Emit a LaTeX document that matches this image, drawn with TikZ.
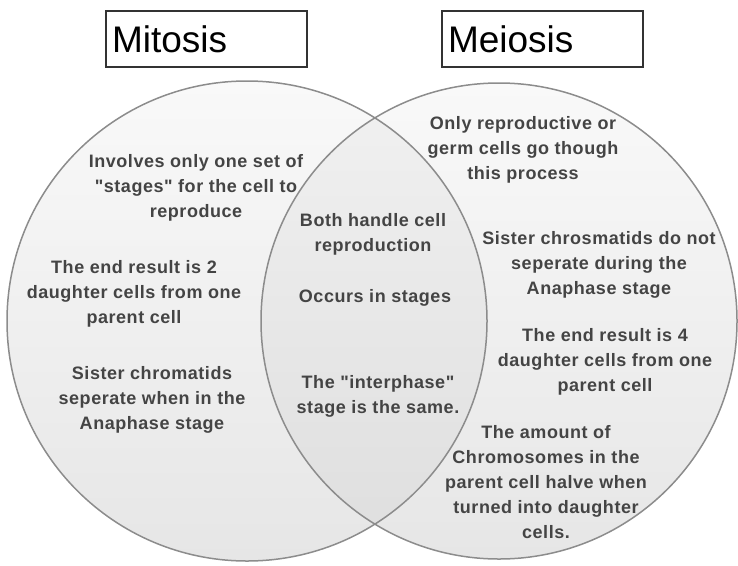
\documentclass[tikz,border=0pt]{standalone}
\usepackage{fontspec}
\setmainfont{Liberation Sans}
\newfontfamily\bodyfont[LetterSpace=3]{Liberation Sans}
\definecolor{txt}{HTML}{444444}
\definecolor{ring}{HTML}{8C8C8C}
\definecolor{filltop}{HTML}{F9F9F9}
\definecolor{fillbot}{HTML}{E6E6E6}
\begin{document}
\begin{tikzpicture}[x=1pt,y=-1pt,
  lbl/.style={font=\bodyfont\bfseries\fontsize{18}{25}\selectfont, text=txt, align=center, inner sep=0pt},
  titlebox/.style={draw=black!80, line width=1.2pt, minimum height=56pt, inner xsep=6pt, inner ysep=0pt,
    text width=189pt, align=left, font=\fontsize{37}{40}\selectfont},
  ringline/.style={draw=ring, line width=1.5pt}]
\useasboundingbox (0,0) rectangle (738,565);
% circles
\shade[top color=filltop, bottom color=fillbot] (247,321) circle [radius=240];
\shade[top color=filltop, bottom color=fillbot] (499,321) circle [radius=238];
\begin{scope}
  \clip (247,321) circle [radius=240];
  \fill[black, opacity=0.03] (499,321) circle [radius=238];
\end{scope}
\draw[ringline] (247,321) circle [radius=240];
\draw[ringline] (499,321) circle [radius=238];
% titles
\node[titlebox] (mit) at (206.5,39) {Mitosis};
\node[titlebox] (mei) at (542.5,39) {Meiosis};
% left texts
\node[lbl] (t1) at (196,188) {Involves only one set of\\"stages" for the cell to\\reproduce};
\node[lbl] (t2) at (134,294) {The end result is 2\\daughter cells from one\\parent cell};
\node[lbl] (t3) at (152,400) {Sister chromatids\\seperate when in the\\Anaphase stage};
% middle texts
\node[lbl] (t4) at (373,234.5) {Both handle cell\\reproduction};
\node[lbl] (t5) at (375,298) {Occurs in stages};
\node[lbl] (t6) at (378,396) {The "interphase"\\stage is the same.};
% right texts
\node[lbl] (t7) at (523,150) {Only reproductive or\\germ cells go though\\this process};
\node[lbl] (t8) at (599,265) {Sister chrosmatids do not\\seperate during the\\Anaphase stage};
\node[lbl] (t9) at (605,362) {The end result is 4\\daughter cells from one\\parent cell};
\node[lbl] (t10) at (546,482) {The amount of\\Chromosomes in the\\parent cell halve when\\turned into daughter\\cells.};
\end{tikzpicture}
\end{document}
